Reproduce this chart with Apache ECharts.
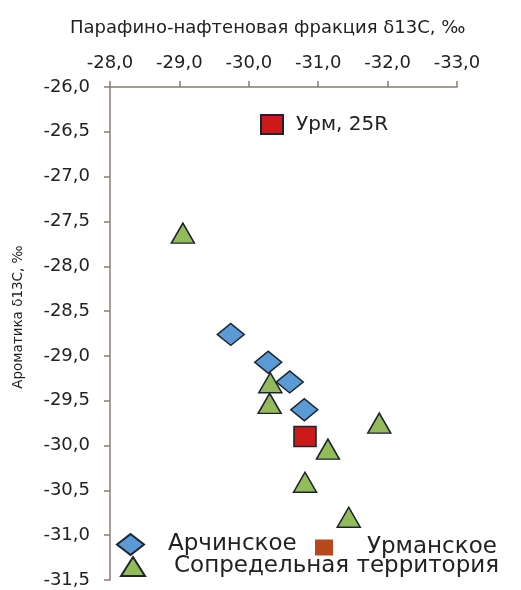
<!DOCTYPE html>
<html>
<head>
<meta charset="utf-8">
<script src="https://cdn.jsdelivr.net/npm/echarts@6/dist/echarts.min.js"></script>
<style>
html,body{margin:0;padding:0;background:#fff;}
#c{width:521px;height:590px;}
</style>
</head>
<body>
<div id="c"></div>
<script>
// Data
const xAxisTitle = 'Парафино-нафтеновая фракция δ13С, ‰';
const yAxisTitle = 'Ароматика δ13С, ‰';
const seriesNames = ['Арчинское', 'Урманское', 'Сопредельная территория', 'Урм, 25R'];
const archX = [-29.74, -30.28, -30.59, -30.80];
const archY = [-28.76, -29.07, -29.29, -29.60];
const urmanX = [];
const urmanY = [];
const sopX = [-29.05, -30.31, -30.30, -31.88, -31.14, -30.81, -31.44];
const sopY = [-27.63, -29.30, -29.53, -29.75, -30.04, -30.41, -30.80];
const urm25X = [-30.81];
const urm25Y = [-29.90];

const zip = (a, b) => a.map((v, i) => [v, b[i]]);
const fmt = v => v.toFixed(1).replace('.', ',');
const FONT = 'DejaVu Sans';
const axisColor = '#8c7b75';
const border = { borderColor: '#1c2430', borderWidth: 1.5 };

const chart = echarts.init(document.getElementById('c'));
chart.setOption({
  animation: false,
  backgroundColor: '#fff',
  textStyle: { fontFamily: FONT },
  grid: { left: 110, right: 64, top: 87, bottom: 10 },
  xAxis: {
    type: 'value', position: 'top', inverse: true,
    min: -33, max: -28, interval: 1,
    axisLine: { show: true, lineStyle: { color: axisColor, width: 1.5 } },
    axisTick: { show: true, inside: false, length: 6, lineStyle: { color: axisColor, width: 1.5 } },
    axisLabel: { formatter: fmt, color: '#222', fontSize: 18, fontFamily: FONT, margin: 15 },
    splitLine: { show: false }
  },
  yAxis: {
    type: 'value',
    min: -31.5, max: -26, interval: 0.5,
    axisLine: { show: true, lineStyle: { color: axisColor, width: 1.5 } },
    axisTick: { show: true, inside: false, length: 6, lineStyle: { color: axisColor, width: 1.5 } },
    axisLabel: { formatter: fmt, color: '#222', fontSize: 18, fontFamily: FONT, margin: 20 },
    splitLine: { show: false }
  },
  graphic: [
    { type: 'text', left: 70, top: 19, style: { text: xAxisTitle, fontSize: 18, fontFamily: FONT, fill: '#222' } },
    { type: 'text', x: 18, y: 317, rotation: Math.PI / 2,
      style: { text: yAxisTitle, fontSize: 13.5, fontFamily: FONT, fill: '#222', align: 'center', verticalAlign: 'middle' } }
  ],
  legend: [
    { data: [seriesNames[3]], left: 255, top: 109, icon: 'rect', itemWidth: 22, itemHeight: 19,
      textStyle: { fontSize: 20, color: '#222', fontFamily: FONT, padding: [0, 0, 0, 8] } },
    { data: [seriesNames[0]], left: 111, top: 528, icon: 'diamond', itemWidth: 27, itemHeight: 21,
      textStyle: { fontSize: 23, color: '#222', fontFamily: FONT, padding: [0, 0, 0, 19] } },
    { data: [seriesNames[1]], left: 310, top: 531, icon: 'rect', itemWidth: 18, itemHeight: 16,
      textStyle: { fontSize: 23, color: '#222', fontFamily: FONT, padding: [0, 0, 0, 29] } },
    { data: [seriesNames[2]], left: 115, top: 550, icon: 'triangle', itemWidth: 24, itemHeight: 19,
      textStyle: { fontSize: 23, color: '#222', fontFamily: FONT, padding: [0, 0, 0, 24] } }
  ],
  series: [
    { name: seriesNames[0], type: 'scatter', symbol: 'diamond', symbolSize: [27, 22],
      itemStyle: Object.assign({ color: '#5b9bd5', opacity: 1 }, border), data: zip(archX, archY) },
    { name: seriesNames[1], type: 'scatter', symbol: 'rect', symbolSize: [20, 18],
      itemStyle: { color: '#b5481f', opacity: 1 }, data: zip(urmanX, urmanY) },
    { name: seriesNames[2], type: 'scatter', symbol: 'triangle', symbolSize: [23, 20],
      itemStyle: Object.assign({ color: '#93bb5a', opacity: 1 }, border), data: zip(sopX, sopY) },
    { name: seriesNames[3], type: 'scatter', symbol: 'rect', symbolSize: [22, 20],
      itemStyle: Object.assign({ color: '#cc1a1a', opacity: 1 }, border), data: zip(urm25X, urm25Y) }
  ]
});
</script>
</body>
</html>
